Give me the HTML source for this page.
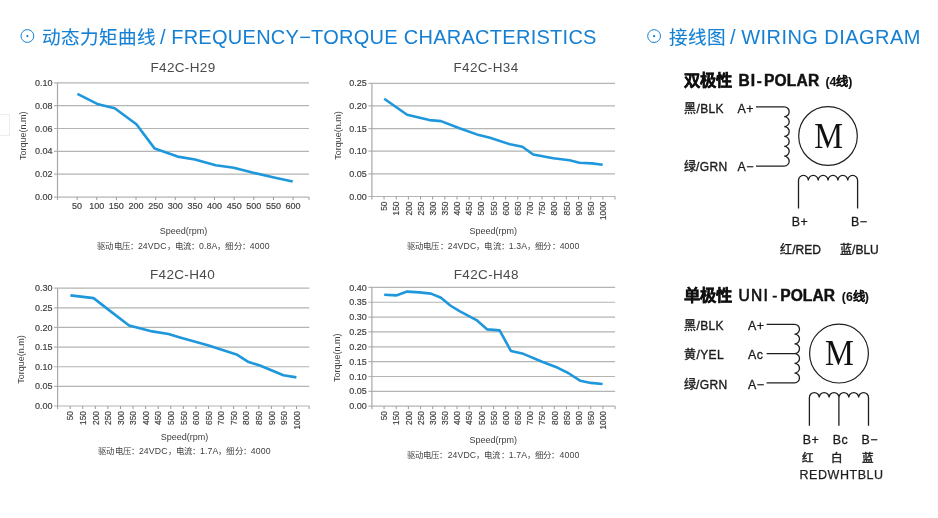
<!DOCTYPE html>
<html lang="zh-CN"><head><meta charset="utf-8">
<style>
html,body{margin:0;padding:0;background:#fff;}
body{width:938px;height:518px;overflow:hidden;position:relative;font-family:"Liberation Sans", sans-serif;}
svg{position:absolute;left:0;top:0;will-change:transform;}
.hd{will-change:transform;}
svg text{font-family:"Liberation Sans", sans-serif;}
.hd{position:absolute;top:24.8px;color:#1580d3;font-size:20px;white-space:nowrap;line-height:24px;}
.ic{position:absolute;border:1.3px solid #1580d3;border-radius:50%;box-sizing:border-box;}
.ic::after{content:"";position:absolute;left:50%;top:50%;width:2.4px;height:2.4px;margin:-1.2px 0 0 -1.2px;background:#1580d3;border-radius:50%;}
.cj{font-size:18.6px;margin-right:-1.5px;-webkit-text-stroke:0.12px #1580d3;} .lt{letter-spacing:0.27px;} .lt2{letter-spacing:0.45px;}
svg text.serif{font-family:"Liberation Serif",serif;}
.box{position:absolute;left:-1px;top:114px;width:11px;height:22px;border:1px solid #ececec;box-sizing:border-box;}
</style></head><body>
<div class="box"></div>
<div class="hd" style="left:42px;"><span class="cj">动态力矩曲线</span> / <span class="lt">FREQUENCY−TORQUE CHARACTERISTICS</span></div>
<div class="hd" style="left:669px;"><span class="cj">接线图</span> / <span class="lt2">WIRING DIAGRAM</span></div>
<svg width="938" height="518" viewBox="0 0 938 518">
<circle cx="27.4" cy="36" r="6.4" fill="none" stroke="#1580d3" stroke-width="1.0"/><circle cx="27.4" cy="36.1" r="1.15" fill="#1580d3"/>
<circle cx="654.1" cy="36.1" r="6.4" fill="none" stroke="#1580d3" stroke-width="1.0"/><circle cx="654.1" cy="36.2" r="1.15" fill="#1580d3"/>
<text x="183" y="71.8" font-size="13.5" letter-spacing="0.35" fill="#4a4a4a" text-anchor="middle">F42C-H29</text>
<line x1="54.0" y1="82.80" x2="309" y2="82.80" stroke="#b2b5b2" stroke-width="1.2"/>
<text x="52.5" y="85.90" font-size="9" fill="#404040" stroke="#404040" stroke-width="0.18" text-anchor="end">0.10</text>
<line x1="54.0" y1="105.65" x2="309" y2="105.65" stroke="#b2b5b2" stroke-width="1.2"/>
<text x="52.5" y="108.75" font-size="9" fill="#404040" stroke="#404040" stroke-width="0.18" text-anchor="end">0.08</text>
<line x1="54.0" y1="128.50" x2="309" y2="128.50" stroke="#b2b5b2" stroke-width="1.2"/>
<text x="52.5" y="131.60" font-size="9" fill="#404040" stroke="#404040" stroke-width="0.18" text-anchor="end">0.06</text>
<line x1="54.0" y1="151.35" x2="309" y2="151.35" stroke="#b2b5b2" stroke-width="1.2"/>
<text x="52.5" y="154.45" font-size="9" fill="#404040" stroke="#404040" stroke-width="0.18" text-anchor="end">0.04</text>
<line x1="54.0" y1="174.20" x2="309" y2="174.20" stroke="#b2b5b2" stroke-width="1.2"/>
<text x="52.5" y="177.30" font-size="9" fill="#404040" stroke="#404040" stroke-width="0.18" text-anchor="end">0.02</text>
<line x1="54.0" y1="197.05" x2="309" y2="197.05" stroke="#b2b5b2" stroke-width="1.2"/>
<text x="52.5" y="200.15" font-size="9" fill="#404040" stroke="#404040" stroke-width="0.18" text-anchor="end">0.00</text>
<line x1="57.5" y1="82.8" x2="57.5" y2="200.05" stroke="#a8a8a8" stroke-width="1.2"/>
<line x1="77.13" y1="197.05" x2="77.13" y2="200.05" stroke="#9a9a9a" stroke-width="1"/>
<line x1="96.76" y1="197.05" x2="96.76" y2="200.05" stroke="#9a9a9a" stroke-width="1"/>
<line x1="116.39" y1="197.05" x2="116.39" y2="200.05" stroke="#9a9a9a" stroke-width="1"/>
<line x1="136.02" y1="197.05" x2="136.02" y2="200.05" stroke="#9a9a9a" stroke-width="1"/>
<line x1="155.65" y1="197.05" x2="155.65" y2="200.05" stroke="#9a9a9a" stroke-width="1"/>
<line x1="175.28" y1="197.05" x2="175.28" y2="200.05" stroke="#9a9a9a" stroke-width="1"/>
<line x1="194.91" y1="197.05" x2="194.91" y2="200.05" stroke="#9a9a9a" stroke-width="1"/>
<line x1="214.54" y1="197.05" x2="214.54" y2="200.05" stroke="#9a9a9a" stroke-width="1"/>
<line x1="234.17" y1="197.05" x2="234.17" y2="200.05" stroke="#9a9a9a" stroke-width="1"/>
<line x1="253.80" y1="197.05" x2="253.80" y2="200.05" stroke="#9a9a9a" stroke-width="1"/>
<line x1="273.43" y1="197.05" x2="273.43" y2="200.05" stroke="#9a9a9a" stroke-width="1"/>
<line x1="293.06" y1="197.05" x2="293.06" y2="200.05" stroke="#9a9a9a" stroke-width="1"/>
<line x1="309.00" y1="197.05" x2="309.00" y2="200.05" stroke="#9a9a9a" stroke-width="1"/>
<text x="77.13" y="209" font-size="9" fill="#404040" stroke="#404040" stroke-width="0.18" text-anchor="middle">50</text>
<text x="96.76" y="209" font-size="9" fill="#404040" stroke="#404040" stroke-width="0.18" text-anchor="middle">100</text>
<text x="116.39" y="209" font-size="9" fill="#404040" stroke="#404040" stroke-width="0.18" text-anchor="middle">150</text>
<text x="136.02" y="209" font-size="9" fill="#404040" stroke="#404040" stroke-width="0.18" text-anchor="middle">200</text>
<text x="155.65" y="209" font-size="9" fill="#404040" stroke="#404040" stroke-width="0.18" text-anchor="middle">250</text>
<text x="175.28" y="209" font-size="9" fill="#404040" stroke="#404040" stroke-width="0.18" text-anchor="middle">300</text>
<text x="194.91" y="209" font-size="9" fill="#404040" stroke="#404040" stroke-width="0.18" text-anchor="middle">350</text>
<text x="214.54" y="209" font-size="9" fill="#404040" stroke="#404040" stroke-width="0.18" text-anchor="middle">400</text>
<text x="234.17" y="209" font-size="9" fill="#404040" stroke="#404040" stroke-width="0.18" text-anchor="middle">450</text>
<text x="253.80" y="209" font-size="9" fill="#404040" stroke="#404040" stroke-width="0.18" text-anchor="middle">500</text>
<text x="273.43" y="209" font-size="9" fill="#404040" stroke="#404040" stroke-width="0.18" text-anchor="middle">550</text>
<text x="293.06" y="209" font-size="9" fill="#404040" stroke="#404040" stroke-width="0.18" text-anchor="middle">600</text>
<text transform="translate(25.5,135.7) rotate(-90)" font-size="9" fill="#404040" text-anchor="middle">Torque(n.m)</text>
<text x="183.5" y="233.5" font-size="9" fill="#404040" text-anchor="middle">Speed(rpm)</text>
<text x="183.5" y="248.6" font-size="8.7" letter-spacing="0.12" fill="#404040" text-anchor="middle"><tspan font-size="8.4">驱动电压：</tspan>24VDC<tspan font-size="8.4">，电流：</tspan>0.8A<tspan font-size="8.4">，细分：</tspan>4000</text>
<polyline points="77.4,93.9 98.2,104.3 114.7,108.3 136.4,124.3 154.7,148.6 177.6,156.6 194.9,159.5 215.7,165.3 233.8,167.8 253.2,172.7 274,177.4 292.7,181.4" fill="none" stroke="#1f97dc" stroke-width="2.6" stroke-linejoin="round" stroke-linecap="butt"/>
<text x="486" y="71.8" font-size="13.5" letter-spacing="0.35" fill="#4a4a4a" text-anchor="middle">F42C-H34</text>
<line x1="368.4" y1="83.30" x2="615" y2="83.30" stroke="#b2b5b2" stroke-width="1.2"/>
<text x="366.9" y="86.40" font-size="9" fill="#404040" stroke="#404040" stroke-width="0.18" text-anchor="end">0.25</text>
<line x1="368.4" y1="105.94" x2="615" y2="105.94" stroke="#b2b5b2" stroke-width="1.2"/>
<text x="366.9" y="109.04" font-size="9" fill="#404040" stroke="#404040" stroke-width="0.18" text-anchor="end">0.20</text>
<line x1="368.4" y1="128.58" x2="615" y2="128.58" stroke="#b2b5b2" stroke-width="1.2"/>
<text x="366.9" y="131.68" font-size="9" fill="#404040" stroke="#404040" stroke-width="0.18" text-anchor="end">0.15</text>
<line x1="368.4" y1="151.22" x2="615" y2="151.22" stroke="#b2b5b2" stroke-width="1.2"/>
<text x="366.9" y="154.32" font-size="9" fill="#404040" stroke="#404040" stroke-width="0.18" text-anchor="end">0.10</text>
<line x1="368.4" y1="173.86" x2="615" y2="173.86" stroke="#b2b5b2" stroke-width="1.2"/>
<text x="366.9" y="176.96" font-size="9" fill="#404040" stroke="#404040" stroke-width="0.18" text-anchor="end">0.05</text>
<line x1="368.4" y1="196.50" x2="615" y2="196.50" stroke="#b2b5b2" stroke-width="1.2"/>
<text x="366.9" y="199.60" font-size="9" fill="#404040" stroke="#404040" stroke-width="0.18" text-anchor="end">0.00</text>
<line x1="371.9" y1="83.3" x2="371.9" y2="199.5" stroke="#a8a8a8" stroke-width="1.2"/>
<line x1="384.05" y1="196.5" x2="384.05" y2="199.5" stroke="#9a9a9a" stroke-width="1"/>
<line x1="396.21" y1="196.5" x2="396.21" y2="199.5" stroke="#9a9a9a" stroke-width="1"/>
<line x1="408.37" y1="196.5" x2="408.37" y2="199.5" stroke="#9a9a9a" stroke-width="1"/>
<line x1="420.52" y1="196.5" x2="420.52" y2="199.5" stroke="#9a9a9a" stroke-width="1"/>
<line x1="432.67" y1="196.5" x2="432.67" y2="199.5" stroke="#9a9a9a" stroke-width="1"/>
<line x1="444.83" y1="196.5" x2="444.83" y2="199.5" stroke="#9a9a9a" stroke-width="1"/>
<line x1="456.99" y1="196.5" x2="456.99" y2="199.5" stroke="#9a9a9a" stroke-width="1"/>
<line x1="469.14" y1="196.5" x2="469.14" y2="199.5" stroke="#9a9a9a" stroke-width="1"/>
<line x1="481.29" y1="196.5" x2="481.29" y2="199.5" stroke="#9a9a9a" stroke-width="1"/>
<line x1="493.45" y1="196.5" x2="493.45" y2="199.5" stroke="#9a9a9a" stroke-width="1"/>
<line x1="505.61" y1="196.5" x2="505.61" y2="199.5" stroke="#9a9a9a" stroke-width="1"/>
<line x1="517.76" y1="196.5" x2="517.76" y2="199.5" stroke="#9a9a9a" stroke-width="1"/>
<line x1="529.91" y1="196.5" x2="529.91" y2="199.5" stroke="#9a9a9a" stroke-width="1"/>
<line x1="542.07" y1="196.5" x2="542.07" y2="199.5" stroke="#9a9a9a" stroke-width="1"/>
<line x1="554.23" y1="196.5" x2="554.23" y2="199.5" stroke="#9a9a9a" stroke-width="1"/>
<line x1="566.38" y1="196.5" x2="566.38" y2="199.5" stroke="#9a9a9a" stroke-width="1"/>
<line x1="578.53" y1="196.5" x2="578.53" y2="199.5" stroke="#9a9a9a" stroke-width="1"/>
<line x1="590.69" y1="196.5" x2="590.69" y2="199.5" stroke="#9a9a9a" stroke-width="1"/>
<line x1="602.85" y1="196.5" x2="602.85" y2="199.5" stroke="#9a9a9a" stroke-width="1"/>
<line x1="615.00" y1="196.5" x2="615.00" y2="199.5" stroke="#9a9a9a" stroke-width="1"/>
<text transform="translate(387.25,201.5) rotate(-90) scale(0.93,1)" font-size="9" fill="#404040" stroke="#404040" stroke-width="0.18" text-anchor="end">50</text>
<text transform="translate(399.41,201.5) rotate(-90) scale(0.93,1)" font-size="9" fill="#404040" stroke="#404040" stroke-width="0.18" text-anchor="end">150</text>
<text transform="translate(411.56,201.5) rotate(-90) scale(0.93,1)" font-size="9" fill="#404040" stroke="#404040" stroke-width="0.18" text-anchor="end">200</text>
<text transform="translate(423.72,201.5) rotate(-90) scale(0.93,1)" font-size="9" fill="#404040" stroke="#404040" stroke-width="0.18" text-anchor="end">250</text>
<text transform="translate(435.87,201.5) rotate(-90) scale(0.93,1)" font-size="9" fill="#404040" stroke="#404040" stroke-width="0.18" text-anchor="end">300</text>
<text transform="translate(448.03,201.5) rotate(-90) scale(0.93,1)" font-size="9" fill="#404040" stroke="#404040" stroke-width="0.18" text-anchor="end">350</text>
<text transform="translate(460.19,201.5) rotate(-90) scale(0.93,1)" font-size="9" fill="#404040" stroke="#404040" stroke-width="0.18" text-anchor="end">400</text>
<text transform="translate(472.34,201.5) rotate(-90) scale(0.93,1)" font-size="9" fill="#404040" stroke="#404040" stroke-width="0.18" text-anchor="end">450</text>
<text transform="translate(484.49,201.5) rotate(-90) scale(0.93,1)" font-size="9" fill="#404040" stroke="#404040" stroke-width="0.18" text-anchor="end">500</text>
<text transform="translate(496.65,201.5) rotate(-90) scale(0.93,1)" font-size="9" fill="#404040" stroke="#404040" stroke-width="0.18" text-anchor="end">550</text>
<text transform="translate(508.81,201.5) rotate(-90) scale(0.93,1)" font-size="9" fill="#404040" stroke="#404040" stroke-width="0.18" text-anchor="end">600</text>
<text transform="translate(520.96,201.5) rotate(-90) scale(0.93,1)" font-size="9" fill="#404040" stroke="#404040" stroke-width="0.18" text-anchor="end">650</text>
<text transform="translate(533.12,201.5) rotate(-90) scale(0.93,1)" font-size="9" fill="#404040" stroke="#404040" stroke-width="0.18" text-anchor="end">700</text>
<text transform="translate(545.27,201.5) rotate(-90) scale(0.93,1)" font-size="9" fill="#404040" stroke="#404040" stroke-width="0.18" text-anchor="end">750</text>
<text transform="translate(557.43,201.5) rotate(-90) scale(0.93,1)" font-size="9" fill="#404040" stroke="#404040" stroke-width="0.18" text-anchor="end">800</text>
<text transform="translate(569.58,201.5) rotate(-90) scale(0.93,1)" font-size="9" fill="#404040" stroke="#404040" stroke-width="0.18" text-anchor="end">850</text>
<text transform="translate(581.74,201.5) rotate(-90) scale(0.93,1)" font-size="9" fill="#404040" stroke="#404040" stroke-width="0.18" text-anchor="end">900</text>
<text transform="translate(593.89,201.5) rotate(-90) scale(0.93,1)" font-size="9" fill="#404040" stroke="#404040" stroke-width="0.18" text-anchor="end">950</text>
<text transform="translate(606.05,201.5) rotate(-90) scale(0.93,1)" font-size="9" fill="#404040" stroke="#404040" stroke-width="0.18" text-anchor="end">1000</text>
<text transform="translate(341,135.5) rotate(-90)" font-size="9" fill="#404040" text-anchor="middle">Torque(n.m)</text>
<text x="493.3" y="233.5" font-size="9" fill="#404040" text-anchor="middle">Speed(rpm)</text>
<text x="493.3" y="248.6" font-size="8.7" letter-spacing="0.12" fill="#404040" text-anchor="middle"><tspan font-size="8.4">驱动电压：</tspan>24VDC<tspan font-size="8.4">，电流：</tspan>1.3A<tspan font-size="8.4">，细分：</tspan>4000</text>
<polyline points="384.2,98.8 407.1,114.7 429.4,120.1 441,121.1 459.5,128.2 478.8,135.1 490,137.8 510.1,144.3 522.4,146.7 533.2,154.5 553.3,158.3 569.5,160.2 579.5,162.8 591.9,163.4 602.7,164.8" fill="none" stroke="#1f97dc" stroke-width="2.6" stroke-linejoin="round" stroke-linecap="butt"/>
<text x="182.5" y="278.5" font-size="13.5" letter-spacing="0.35" fill="#4a4a4a" text-anchor="middle">F42C-H40</text>
<line x1="54.1" y1="288.20" x2="309.3" y2="288.20" stroke="#b2b5b2" stroke-width="1.2"/>
<text x="52.6" y="291.30" font-size="9" fill="#404040" stroke="#404040" stroke-width="0.18" text-anchor="end">0.30</text>
<line x1="54.1" y1="307.83" x2="309.3" y2="307.83" stroke="#b2b5b2" stroke-width="1.2"/>
<text x="52.6" y="310.93" font-size="9" fill="#404040" stroke="#404040" stroke-width="0.18" text-anchor="end">0.25</text>
<line x1="54.1" y1="327.47" x2="309.3" y2="327.47" stroke="#b2b5b2" stroke-width="1.2"/>
<text x="52.6" y="330.57" font-size="9" fill="#404040" stroke="#404040" stroke-width="0.18" text-anchor="end">0.20</text>
<line x1="54.1" y1="347.10" x2="309.3" y2="347.10" stroke="#b2b5b2" stroke-width="1.2"/>
<text x="52.6" y="350.20" font-size="9" fill="#404040" stroke="#404040" stroke-width="0.18" text-anchor="end">0.15</text>
<line x1="54.1" y1="366.73" x2="309.3" y2="366.73" stroke="#b2b5b2" stroke-width="1.2"/>
<text x="52.6" y="369.83" font-size="9" fill="#404040" stroke="#404040" stroke-width="0.18" text-anchor="end">0.10</text>
<line x1="54.1" y1="386.37" x2="309.3" y2="386.37" stroke="#b2b5b2" stroke-width="1.2"/>
<text x="52.6" y="389.47" font-size="9" fill="#404040" stroke="#404040" stroke-width="0.18" text-anchor="end">0.05</text>
<line x1="54.1" y1="406.00" x2="309.3" y2="406.00" stroke="#b2b5b2" stroke-width="1.2"/>
<text x="52.6" y="409.10" font-size="9" fill="#404040" stroke="#404040" stroke-width="0.18" text-anchor="end">0.00</text>
<line x1="57.6" y1="288.2" x2="57.6" y2="409" stroke="#a8a8a8" stroke-width="1.2"/>
<line x1="70.17" y1="406" x2="70.17" y2="409" stroke="#9a9a9a" stroke-width="1"/>
<line x1="82.75" y1="406" x2="82.75" y2="409" stroke="#9a9a9a" stroke-width="1"/>
<line x1="95.33" y1="406" x2="95.33" y2="409" stroke="#9a9a9a" stroke-width="1"/>
<line x1="107.90" y1="406" x2="107.90" y2="409" stroke="#9a9a9a" stroke-width="1"/>
<line x1="120.48" y1="406" x2="120.48" y2="409" stroke="#9a9a9a" stroke-width="1"/>
<line x1="133.05" y1="406" x2="133.05" y2="409" stroke="#9a9a9a" stroke-width="1"/>
<line x1="145.62" y1="406" x2="145.62" y2="409" stroke="#9a9a9a" stroke-width="1"/>
<line x1="158.20" y1="406" x2="158.20" y2="409" stroke="#9a9a9a" stroke-width="1"/>
<line x1="170.78" y1="406" x2="170.78" y2="409" stroke="#9a9a9a" stroke-width="1"/>
<line x1="183.35" y1="406" x2="183.35" y2="409" stroke="#9a9a9a" stroke-width="1"/>
<line x1="195.93" y1="406" x2="195.93" y2="409" stroke="#9a9a9a" stroke-width="1"/>
<line x1="208.50" y1="406" x2="208.50" y2="409" stroke="#9a9a9a" stroke-width="1"/>
<line x1="221.08" y1="406" x2="221.08" y2="409" stroke="#9a9a9a" stroke-width="1"/>
<line x1="233.65" y1="406" x2="233.65" y2="409" stroke="#9a9a9a" stroke-width="1"/>
<line x1="246.23" y1="406" x2="246.23" y2="409" stroke="#9a9a9a" stroke-width="1"/>
<line x1="258.80" y1="406" x2="258.80" y2="409" stroke="#9a9a9a" stroke-width="1"/>
<line x1="271.38" y1="406" x2="271.38" y2="409" stroke="#9a9a9a" stroke-width="1"/>
<line x1="283.95" y1="406" x2="283.95" y2="409" stroke="#9a9a9a" stroke-width="1"/>
<line x1="296.53" y1="406" x2="296.53" y2="409" stroke="#9a9a9a" stroke-width="1"/>
<line x1="309.10" y1="406" x2="309.10" y2="409" stroke="#9a9a9a" stroke-width="1"/>
<text transform="translate(73.38,411) rotate(-90) scale(0.93,1)" font-size="9" fill="#404040" stroke="#404040" stroke-width="0.18" text-anchor="end">50</text>
<text transform="translate(85.95,411) rotate(-90) scale(0.93,1)" font-size="9" fill="#404040" stroke="#404040" stroke-width="0.18" text-anchor="end">150</text>
<text transform="translate(98.53,411) rotate(-90) scale(0.93,1)" font-size="9" fill="#404040" stroke="#404040" stroke-width="0.18" text-anchor="end">200</text>
<text transform="translate(111.10,411) rotate(-90) scale(0.93,1)" font-size="9" fill="#404040" stroke="#404040" stroke-width="0.18" text-anchor="end">250</text>
<text transform="translate(123.68,411) rotate(-90) scale(0.93,1)" font-size="9" fill="#404040" stroke="#404040" stroke-width="0.18" text-anchor="end">300</text>
<text transform="translate(136.25,411) rotate(-90) scale(0.93,1)" font-size="9" fill="#404040" stroke="#404040" stroke-width="0.18" text-anchor="end">350</text>
<text transform="translate(148.82,411) rotate(-90) scale(0.93,1)" font-size="9" fill="#404040" stroke="#404040" stroke-width="0.18" text-anchor="end">400</text>
<text transform="translate(161.40,411) rotate(-90) scale(0.93,1)" font-size="9" fill="#404040" stroke="#404040" stroke-width="0.18" text-anchor="end">450</text>
<text transform="translate(173.97,411) rotate(-90) scale(0.93,1)" font-size="9" fill="#404040" stroke="#404040" stroke-width="0.18" text-anchor="end">500</text>
<text transform="translate(186.55,411) rotate(-90) scale(0.93,1)" font-size="9" fill="#404040" stroke="#404040" stroke-width="0.18" text-anchor="end">550</text>
<text transform="translate(199.12,411) rotate(-90) scale(0.93,1)" font-size="9" fill="#404040" stroke="#404040" stroke-width="0.18" text-anchor="end">600</text>
<text transform="translate(211.70,411) rotate(-90) scale(0.93,1)" font-size="9" fill="#404040" stroke="#404040" stroke-width="0.18" text-anchor="end">650</text>
<text transform="translate(224.28,411) rotate(-90) scale(0.93,1)" font-size="9" fill="#404040" stroke="#404040" stroke-width="0.18" text-anchor="end">700</text>
<text transform="translate(236.85,411) rotate(-90) scale(0.93,1)" font-size="9" fill="#404040" stroke="#404040" stroke-width="0.18" text-anchor="end">750</text>
<text transform="translate(249.43,411) rotate(-90) scale(0.93,1)" font-size="9" fill="#404040" stroke="#404040" stroke-width="0.18" text-anchor="end">800</text>
<text transform="translate(262.00,411) rotate(-90) scale(0.93,1)" font-size="9" fill="#404040" stroke="#404040" stroke-width="0.18" text-anchor="end">850</text>
<text transform="translate(274.57,411) rotate(-90) scale(0.93,1)" font-size="9" fill="#404040" stroke="#404040" stroke-width="0.18" text-anchor="end">900</text>
<text transform="translate(287.15,411) rotate(-90) scale(0.93,1)" font-size="9" fill="#404040" stroke="#404040" stroke-width="0.18" text-anchor="end">950</text>
<text transform="translate(299.73,411) rotate(-90) scale(0.93,1)" font-size="9" fill="#404040" stroke="#404040" stroke-width="0.18" text-anchor="end">1000</text>
<text transform="translate(24.2,359.4) rotate(-90)" font-size="9" fill="#404040" text-anchor="middle">Torque(n.m)</text>
<text x="184.5" y="439.5" font-size="9" fill="#404040" text-anchor="middle">Speed(rpm)</text>
<text x="184.5" y="453.6" font-size="8.7" letter-spacing="0.12" fill="#404040" text-anchor="middle"><tspan font-size="8.4">驱动电压：</tspan>24VDC<tspan font-size="8.4">，电流：</tspan>1.7A<tspan font-size="8.4">，细分：</tspan>4000</text>
<polyline points="70.4,295.4 93.6,298.1 109,310.1 129.1,325.5 152.3,331.4 168.5,334 180,337.4 207.8,345.2 236.5,354.4 248.6,362.1 259.9,365.5 283.4,375.3 296.4,377.4" fill="none" stroke="#1f97dc" stroke-width="2.6" stroke-linejoin="round" stroke-linecap="butt"/>
<text x="486.3" y="278.5" font-size="13.5" letter-spacing="0.35" fill="#4a4a4a" text-anchor="middle">F42C-H48</text>
<line x1="368.4" y1="287.40" x2="615.1" y2="287.40" stroke="#b2b5b2" stroke-width="1.2"/>
<text x="366.9" y="290.50" font-size="9" fill="#404040" stroke="#404040" stroke-width="0.18" text-anchor="end">0.40</text>
<line x1="368.4" y1="302.25" x2="615.1" y2="302.25" stroke="#b2b5b2" stroke-width="1.2"/>
<text x="366.9" y="305.35" font-size="9" fill="#404040" stroke="#404040" stroke-width="0.18" text-anchor="end">0.35</text>
<line x1="368.4" y1="317.10" x2="615.1" y2="317.10" stroke="#b2b5b2" stroke-width="1.2"/>
<text x="366.9" y="320.20" font-size="9" fill="#404040" stroke="#404040" stroke-width="0.18" text-anchor="end">0.30</text>
<line x1="368.4" y1="331.95" x2="615.1" y2="331.95" stroke="#b2b5b2" stroke-width="1.2"/>
<text x="366.9" y="335.05" font-size="9" fill="#404040" stroke="#404040" stroke-width="0.18" text-anchor="end">0.25</text>
<line x1="368.4" y1="346.80" x2="615.1" y2="346.80" stroke="#b2b5b2" stroke-width="1.2"/>
<text x="366.9" y="349.90" font-size="9" fill="#404040" stroke="#404040" stroke-width="0.18" text-anchor="end">0.20</text>
<line x1="368.4" y1="361.65" x2="615.1" y2="361.65" stroke="#b2b5b2" stroke-width="1.2"/>
<text x="366.9" y="364.75" font-size="9" fill="#404040" stroke="#404040" stroke-width="0.18" text-anchor="end">0.15</text>
<line x1="368.4" y1="376.50" x2="615.1" y2="376.50" stroke="#b2b5b2" stroke-width="1.2"/>
<text x="366.9" y="379.60" font-size="9" fill="#404040" stroke="#404040" stroke-width="0.18" text-anchor="end">0.10</text>
<line x1="368.4" y1="391.35" x2="615.1" y2="391.35" stroke="#b2b5b2" stroke-width="1.2"/>
<text x="366.9" y="394.45" font-size="9" fill="#404040" stroke="#404040" stroke-width="0.18" text-anchor="end">0.05</text>
<line x1="368.4" y1="406.20" x2="615.1" y2="406.20" stroke="#b2b5b2" stroke-width="1.2"/>
<text x="366.9" y="409.30" font-size="9" fill="#404040" stroke="#404040" stroke-width="0.18" text-anchor="end">0.00</text>
<line x1="371.9" y1="287.4" x2="371.9" y2="409.2" stroke="#a8a8a8" stroke-width="1.2"/>
<line x1="384.06" y1="406.2" x2="384.06" y2="409.2" stroke="#9a9a9a" stroke-width="1"/>
<line x1="396.22" y1="406.2" x2="396.22" y2="409.2" stroke="#9a9a9a" stroke-width="1"/>
<line x1="408.38" y1="406.2" x2="408.38" y2="409.2" stroke="#9a9a9a" stroke-width="1"/>
<line x1="420.54" y1="406.2" x2="420.54" y2="409.2" stroke="#9a9a9a" stroke-width="1"/>
<line x1="432.70" y1="406.2" x2="432.70" y2="409.2" stroke="#9a9a9a" stroke-width="1"/>
<line x1="444.86" y1="406.2" x2="444.86" y2="409.2" stroke="#9a9a9a" stroke-width="1"/>
<line x1="457.02" y1="406.2" x2="457.02" y2="409.2" stroke="#9a9a9a" stroke-width="1"/>
<line x1="469.18" y1="406.2" x2="469.18" y2="409.2" stroke="#9a9a9a" stroke-width="1"/>
<line x1="481.34" y1="406.2" x2="481.34" y2="409.2" stroke="#9a9a9a" stroke-width="1"/>
<line x1="493.50" y1="406.2" x2="493.50" y2="409.2" stroke="#9a9a9a" stroke-width="1"/>
<line x1="505.66" y1="406.2" x2="505.66" y2="409.2" stroke="#9a9a9a" stroke-width="1"/>
<line x1="517.82" y1="406.2" x2="517.82" y2="409.2" stroke="#9a9a9a" stroke-width="1"/>
<line x1="529.98" y1="406.2" x2="529.98" y2="409.2" stroke="#9a9a9a" stroke-width="1"/>
<line x1="542.14" y1="406.2" x2="542.14" y2="409.2" stroke="#9a9a9a" stroke-width="1"/>
<line x1="554.30" y1="406.2" x2="554.30" y2="409.2" stroke="#9a9a9a" stroke-width="1"/>
<line x1="566.46" y1="406.2" x2="566.46" y2="409.2" stroke="#9a9a9a" stroke-width="1"/>
<line x1="578.62" y1="406.2" x2="578.62" y2="409.2" stroke="#9a9a9a" stroke-width="1"/>
<line x1="590.78" y1="406.2" x2="590.78" y2="409.2" stroke="#9a9a9a" stroke-width="1"/>
<line x1="602.94" y1="406.2" x2="602.94" y2="409.2" stroke="#9a9a9a" stroke-width="1"/>
<line x1="615.10" y1="406.2" x2="615.10" y2="409.2" stroke="#9a9a9a" stroke-width="1"/>
<text transform="translate(387.26,411) rotate(-90) scale(0.93,1)" font-size="9" fill="#404040" stroke="#404040" stroke-width="0.18" text-anchor="end">50</text>
<text transform="translate(399.42,411) rotate(-90) scale(0.93,1)" font-size="9" fill="#404040" stroke="#404040" stroke-width="0.18" text-anchor="end">150</text>
<text transform="translate(411.58,411) rotate(-90) scale(0.93,1)" font-size="9" fill="#404040" stroke="#404040" stroke-width="0.18" text-anchor="end">200</text>
<text transform="translate(423.74,411) rotate(-90) scale(0.93,1)" font-size="9" fill="#404040" stroke="#404040" stroke-width="0.18" text-anchor="end">250</text>
<text transform="translate(435.90,411) rotate(-90) scale(0.93,1)" font-size="9" fill="#404040" stroke="#404040" stroke-width="0.18" text-anchor="end">300</text>
<text transform="translate(448.06,411) rotate(-90) scale(0.93,1)" font-size="9" fill="#404040" stroke="#404040" stroke-width="0.18" text-anchor="end">350</text>
<text transform="translate(460.22,411) rotate(-90) scale(0.93,1)" font-size="9" fill="#404040" stroke="#404040" stroke-width="0.18" text-anchor="end">400</text>
<text transform="translate(472.38,411) rotate(-90) scale(0.93,1)" font-size="9" fill="#404040" stroke="#404040" stroke-width="0.18" text-anchor="end">450</text>
<text transform="translate(484.54,411) rotate(-90) scale(0.93,1)" font-size="9" fill="#404040" stroke="#404040" stroke-width="0.18" text-anchor="end">500</text>
<text transform="translate(496.70,411) rotate(-90) scale(0.93,1)" font-size="9" fill="#404040" stroke="#404040" stroke-width="0.18" text-anchor="end">550</text>
<text transform="translate(508.86,411) rotate(-90) scale(0.93,1)" font-size="9" fill="#404040" stroke="#404040" stroke-width="0.18" text-anchor="end">600</text>
<text transform="translate(521.02,411) rotate(-90) scale(0.93,1)" font-size="9" fill="#404040" stroke="#404040" stroke-width="0.18" text-anchor="end">650</text>
<text transform="translate(533.18,411) rotate(-90) scale(0.93,1)" font-size="9" fill="#404040" stroke="#404040" stroke-width="0.18" text-anchor="end">700</text>
<text transform="translate(545.34,411) rotate(-90) scale(0.93,1)" font-size="9" fill="#404040" stroke="#404040" stroke-width="0.18" text-anchor="end">750</text>
<text transform="translate(557.50,411) rotate(-90) scale(0.93,1)" font-size="9" fill="#404040" stroke="#404040" stroke-width="0.18" text-anchor="end">800</text>
<text transform="translate(569.66,411) rotate(-90) scale(0.93,1)" font-size="9" fill="#404040" stroke="#404040" stroke-width="0.18" text-anchor="end">850</text>
<text transform="translate(581.82,411) rotate(-90) scale(0.93,1)" font-size="9" fill="#404040" stroke="#404040" stroke-width="0.18" text-anchor="end">900</text>
<text transform="translate(593.98,411) rotate(-90) scale(0.93,1)" font-size="9" fill="#404040" stroke="#404040" stroke-width="0.18" text-anchor="end">950</text>
<text transform="translate(606.14,411) rotate(-90) scale(0.93,1)" font-size="9" fill="#404040" stroke="#404040" stroke-width="0.18" text-anchor="end">1000</text>
<text transform="translate(340.4,357.8) rotate(-90)" font-size="9" fill="#404040" text-anchor="middle">Torque(n.m)</text>
<text x="493.2" y="442.6" font-size="9" fill="#404040" text-anchor="middle">Speed(rpm)</text>
<text x="493.2" y="457.6" font-size="8.7" letter-spacing="0.12" fill="#404040" text-anchor="middle"><tspan font-size="8.4">驱动电压：</tspan>24VDC<tspan font-size="8.4">，电流：</tspan>1.7A<tspan font-size="8.4">，细分：</tspan>4000</text>
<polyline points="384.2,294.8 396.2,295.4 407.1,291.6 419.4,292.4 431,293.6 441,297.8 450.3,305.5 459.5,311.2 476.5,320.1 487.3,329.4 499.6,330.4 510.9,350.9 522.2,353.4 542.1,361.7 557.8,367.8 568.2,373 580.4,380.8 590.8,382.9 602.6,384" fill="none" stroke="#1f97dc" stroke-width="2.6" stroke-linejoin="round" stroke-linecap="butt"/>
<text y="85.5" font-weight="bold" fill="#111" stroke="#111" stroke-width="0.45"><tspan x="683.5" font-size="16.3">双极性</tspan><tspan x="738.6" font-size="15.6" letter-spacing="0.8">BI</tspan><tspan x="756.8" font-size="15">-</tspan><tspan x="764" font-size="15.6" letter-spacing="0.15">POLAR</tspan><tspan x="825.4" font-size="12.3" stroke-width="0.1">(4线)</tspan></text>
<text x="684" y="112.6" font-size="12" fill="#1a1a1a" stroke="#1a1a1a" stroke-width="0.35" letter-spacing="0.4">黑/BLK</text>
<text x="737.6" y="112.6" font-size="12.4" letter-spacing="0.5" fill="#1a1a1a" stroke="#1a1a1a" stroke-width="0.3">A+</text>
<text x="683.7" y="171.1" font-size="12" fill="#1a1a1a" stroke="#1a1a1a" stroke-width="0.35" letter-spacing="0.4">绿/GRN</text>
<text x="737.6" y="171.1" font-size="12.4" letter-spacing="0.5" fill="#1a1a1a" stroke="#1a1a1a" stroke-width="0.3">A−</text>
<path d="M 756 106.8 H 784.2  a 5 4.941666666666666 0 0 1 0 9.883333333333333 a 5 4.941666666666666 0 0 1 0 9.883333333333333 a 5 4.941666666666666 0 0 1 0 9.883333333333333 a 5 4.941666666666666 0 0 1 0 9.883333333333333 a 5 4.941666666666666 0 0 1 0 9.883333333333333 a 5 4.941666666666666 0 0 1 0 9.883333333333333 H 756" fill="none" stroke="#1e1e1e" stroke-width="1.3"/>
<circle cx="828" cy="136" r="29.3" fill="none" stroke="#1e1e1e" stroke-width="1.2"/>
<text transform="translate(828.7,148) scale(0.9,1)" class="serif" font-size="36" fill="#111" text-anchor="middle">M</text>
<path d="M 798.5 208.4 V 180.4  a 4.925 5 0 0 1 9.85 0 a 4.925 5 0 0 1 9.85 0 a 4.925 5 0 0 1 9.85 0 a 4.925 5 0 0 1 9.85 0 a 4.925 5 0 0 1 9.85 0 a 4.925 5 0 0 1 9.85 0 V 208.4" fill="none" stroke="#1e1e1e" stroke-width="1.3"/>
<text x="791.8" y="225.7" font-size="12.4" letter-spacing="0.5" fill="#1a1a1a" stroke="#1a1a1a" stroke-width="0.3">B+</text>
<text x="851" y="225.7" font-size="12.4" letter-spacing="0.5" fill="#1a1a1a" stroke="#1a1a1a" stroke-width="0.3">B−</text>
<text x="780.2" y="254" font-size="12" fill="#1a1a1a" stroke="#1a1a1a" stroke-width="0.35">红/RED</text>
<text x="840.1" y="254" font-size="12" fill="#1a1a1a" stroke="#1a1a1a" stroke-width="0.35">蓝/BLU</text>
<text y="300.8" font-weight="bold" fill="#111" stroke="#111" stroke-width="0.45"><tspan x="683.5" font-size="16.3">单极性</tspan><tspan x="738.6" font-size="15.6" font-weight="normal" stroke-width="0.6" letter-spacing="1.2">UNI</tspan><tspan x="772.3" font-size="15" font-weight="normal" stroke-width="0.5">-</tspan><tspan x="780.2" font-size="15.6" letter-spacing="0.05">POLAR</tspan><tspan x="841.8" font-size="12.3" stroke-width="0.1">(6线)</tspan></text>
<text x="684" y="329.7" font-size="12" fill="#1a1a1a" stroke="#1a1a1a" stroke-width="0.35" letter-spacing="0.4">黑/BLK</text>
<text x="748" y="329.7" font-size="12.4" letter-spacing="0.5" fill="#1a1a1a" stroke="#1a1a1a" stroke-width="0.3">A+</text>
<text x="684" y="358.9" font-size="12" fill="#1a1a1a" stroke="#1a1a1a" stroke-width="0.35" letter-spacing="0.4">黄/YEL</text>
<text x="748" y="358.9" font-size="12.4" letter-spacing="0.5" fill="#1a1a1a" stroke="#1a1a1a" stroke-width="0.3">Ac</text>
<text x="683.7" y="388.5" font-size="12" fill="#1a1a1a" stroke="#1a1a1a" stroke-width="0.35" letter-spacing="0.4">绿/GRN</text>
<text x="748" y="388.5" font-size="12.4" letter-spacing="0.5" fill="#1a1a1a" stroke="#1a1a1a" stroke-width="0.3">A−</text>
<path d="M 766.6 324.4 H 794.5  a 5 4.866666666666666 0 0 1 0 9.733333333333333 a 5 4.866666666666666 0 0 1 0 9.733333333333333 a 5 4.866666666666666 0 0 1 0 9.733333333333333 a 5 4.866666666666666 0 0 1 0 9.733333333333333 a 5 4.866666666666666 0 0 1 0 9.733333333333333 a 5 4.866666666666666 0 0 1 0 9.733333333333333 H 766.6 M 766.6 353.6 H 794.5" fill="none" stroke="#1e1e1e" stroke-width="1.3"/>
<circle cx="839" cy="353.6" r="29.4" fill="none" stroke="#1e1e1e" stroke-width="1.2"/>
<text transform="translate(839.5,365.1) scale(0.9,1)" class="serif" font-size="36" fill="#111" text-anchor="middle">M</text>
<path d="M 809.4 425.7 V 397.6  a 4.925 5 0 0 1 9.85 0 a 4.925 5 0 0 1 9.85 0 a 4.925 5 0 0 1 9.85 0 a 4.925 5 0 0 1 9.85 0 a 4.925 5 0 0 1 9.85 0 a 4.925 5 0 0 1 9.85 0 V 425.7 M 838.9 397.6 V 425.7" fill="none" stroke="#1e1e1e" stroke-width="1.3"/>
<text x="802.8" y="443.6" font-size="12.4" letter-spacing="0.5" fill="#1a1a1a" stroke="#1a1a1a" stroke-width="0.3">B+</text>
<text x="832.7" y="443.6" font-size="12.4" letter-spacing="0.5" fill="#1a1a1a" stroke="#1a1a1a" stroke-width="0.3">Bc</text>
<text x="861.6" y="443.6" font-size="12.4" letter-spacing="0.5" fill="#1a1a1a" stroke="#1a1a1a" stroke-width="0.3">B−</text>
<text x="807.5" y="461.5" font-size="11.5" fill="#1e1e1e" stroke="#1e1e1e" stroke-width="0.45" text-anchor="middle">红</text>
<text x="836.7" y="461.5" font-size="11.5" fill="#1e1e1e" stroke="#1e1e1e" stroke-width="0.45" text-anchor="middle">白</text>
<text x="867" y="461.5" font-size="11.5" fill="#1e1e1e" stroke="#1e1e1e" stroke-width="0.45" text-anchor="middle">蓝</text>
<text x="799.5" y="478.5" font-size="12.5" letter-spacing="0.55" fill="#1e1e1e" stroke="#1e1e1e" stroke-width="0.25">REDWHTBLU</text>
</svg>
</body></html>
